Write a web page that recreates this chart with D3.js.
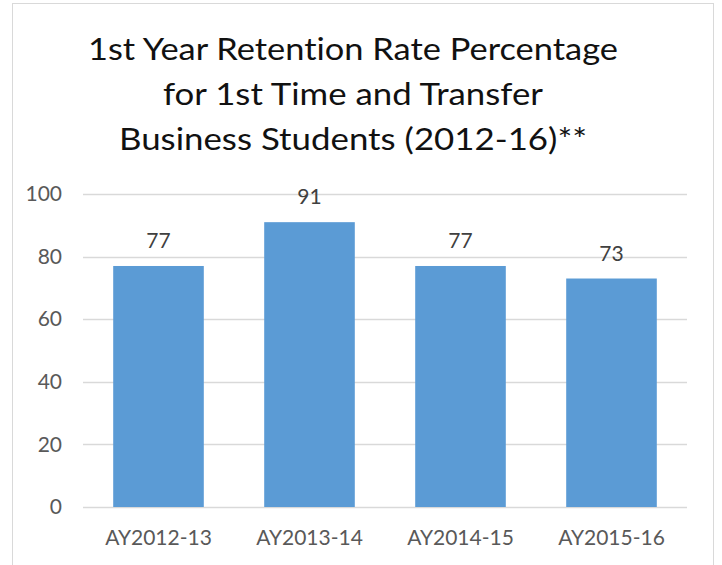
<!DOCTYPE html>
<html>
<head>
<meta charset="utf-8">
<script src="https://cdn.jsdelivr.net/npm/d3@7"></script>
<style>
  body { margin: 0; background: #fff; }
  text { font-family: Lato, "Open Sans", sans-serif; font-variant-ligatures: none; }
</style>
</head>
<body>
<div id="chart"></div>
<script>
var svgWidth = 722;
var svgHeight = 565;

// data
var categories = ["AY2012-13", "AY2013-14", "AY2014-15", "AY2015-16"];
var values = [77, 91, 77, 73];
var yTicks = [0, 20, 40, 60, 80, 100];
var titleLines = [
    "1st Year Retention Rate Percentage",
    "for 1st Time and Transfer",
    "Business Students (2012-16)**"
];
var titleWidths = [530, 380, 468];

var margin = { top: 194, right: 35, bottom: 58, left: 83 };
var width = svgWidth - margin.left - margin.right;
var height = svgHeight - margin.top - margin.bottom;

var svg = d3.select("#chart")
    .append("svg")
    .attr("width", svgWidth)
    .attr("height", svgHeight);

// chart frame
svg.append("rect")
    .attr("x", 12.5)
    .attr("y", 3.5)
    .attr("width", 701)
    .attr("height", 580)
    .attr("fill", "none")
    .attr("stroke", "#d9d9d9");

// title
svg.selectAll("text.title")
    .data(titleLines)
    .enter()
    .append("text")
    .attr("class", "title")
    .attr("x", 353)
    .attr("y", (d, i) => 60 + i * 45)
    .attr("text-anchor", "middle")
    .attr("font-size", 30)
    .attr("fill", "#111")
    .attr("textLength", (d, i) => titleWidths[i])
    .attr("lengthAdjust", "spacingAndGlyphs")
    .text(d => d);

var chartGroup = svg.append("g")
    .attr("transform", `translate(${margin.left}, ${margin.top})`);

var xScale = d3.scaleBand()
    .domain(categories)
    .range([0, width])
    .paddingInner(0.4)
    .paddingOuter(0.2);

var yScale = d3.scaleLinear()
    .domain([0, 100])
    .range([height, 0]);

// gridlines
chartGroup.selectAll("line.grid")
    .data(yTicks)
    .enter()
    .append("line")
    .attr("class", "grid")
    .attr("x1", 0)
    .attr("x2", width)
    .attr("y1", d => Math.round(yScale(d)) + 0.5)
    .attr("y2", d => Math.round(yScale(d)) + 0.5)
    .attr("stroke", "#d9d9d9")
    .attr("stroke-width", 1.5);

// y axis labels
var leftAxis = d3.axisLeft(yScale).tickValues(yTicks).tickSize(0).tickPadding(21);
var yAxis = chartGroup.append("g").call(leftAxis);
yAxis.select(".domain").remove();
yAxis.selectAll("text")
    .attr("font-size", 21)
    .attr("font-family", "Lato, sans-serif")
    .attr("fill", "#595959");

// bars
chartGroup.selectAll("rect.bar")
    .data(values)
    .enter()
    .append("rect")
    .attr("class", "bar")
    .attr("x", (d, i) => xScale(categories[i]))
    .attr("y", d => yScale(d))
    .attr("width", xScale.bandwidth())
    .attr("height", d => height - yScale(d))
    .attr("fill", "#5b9bd5");

// value labels
chartGroup.selectAll("text.value")
    .data(values)
    .enter()
    .append("text")
    .attr("class", "value")
    .attr("x", (d, i) => xScale(categories[i]) + xScale.bandwidth() / 2)
    .attr("y", d => yScale(d) - 18)
    .attr("text-anchor", "middle")
    .attr("font-size", 21)
    .attr("fill", "#404040")
    .text(d => d);

// x axis labels
var bottomAxis = d3.axisBottom(xScale).tickSize(0).tickPadding(23);
var xAxis = chartGroup.append("g")
    .attr("transform", `translate(0, ${height})`)
    .call(bottomAxis);
xAxis.select(".domain").remove();
xAxis.selectAll("text")
    .attr("font-size", 21)
    .attr("font-family", "Lato, sans-serif")
    .attr("fill", "#595959");
</script>
</body>
</html>
